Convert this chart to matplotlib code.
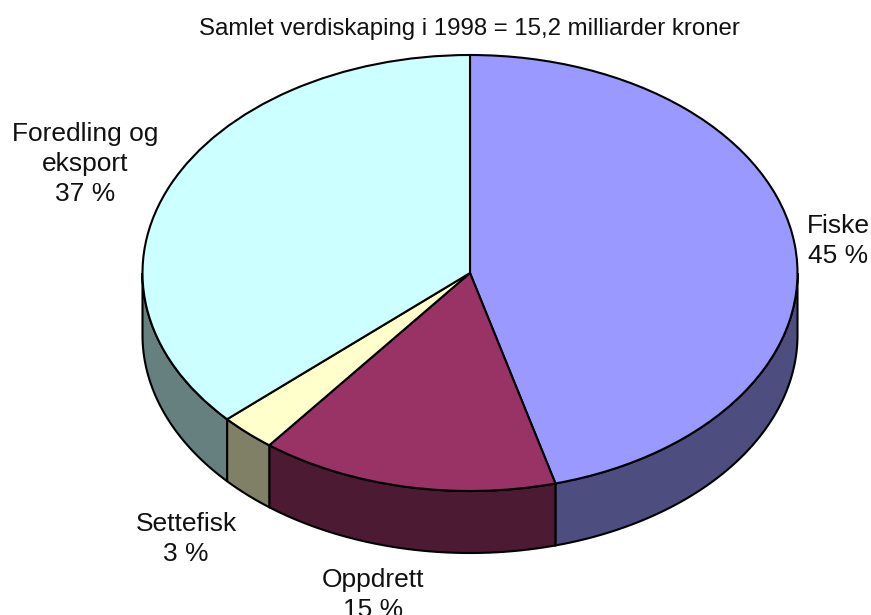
import numpy as np
import matplotlib
matplotlib.use("Agg")
import matplotlib.pyplot as plt

plt.rcParams['font.family'] = ['Liberation Sans', 'DejaVu Sans']

title = "Samlet verdiskaping i 1998 = 15,2 milliarder kroner"
categories = ["Fiske", "Oppdrett", "Settefisk", "Foredling og\neksport"]
shown_pct = ["45 %", "15 %", "3 %", "37 %"]
values = [45.8, 14.7, 2.8, 36.7]
top_colors = ["#9999ff", "#993366", "#ffffcc", "#ccffff"]
side_colors = ["#4d4d80", "#4d1a33", "#808066", "#668080"]

W, H = 871, 615
cx, cy, rx, ry, depth_px = 470, 273, 327.5, 218, 62
depth = depth_px / ry
LW = 1.5

fig = plt.figure(figsize=(W / 100, H / 100), dpi=100)
ax = fig.add_axes([0, 0, 1, 1])

# side walls, computed from the same values as the pie
angles = 90 - 360 * np.concatenate([[0], np.cumsum(values)]) / np.sum(values)
for a0, a1, col in zip(angles[:-1], angles[1:], side_colors):
    # keep only the front (lower) part of the slice's rim
    lo = a1 % 360
    hi = lo + (a0 - a1)
    s = max(lo, 180)
    e = min(hi, 360)
    if e <= s:
        continue
    t = np.radians(np.linspace(s, e, 200))
    x = np.concatenate([np.cos(t), np.cos(t[::-1])])
    y = np.concatenate([np.sin(t), np.sin(t[::-1]) - depth])
    ax.fill(x, y, facecolor=col, edgecolor="black", linewidth=LW, zorder=1)

wedges, _ = ax.pie(values, colors=top_colors, startangle=90, counterclock=False,
                   radius=1, wedgeprops=dict(edgecolor="black", linewidth=LW, zorder=2))
ax.set_aspect("auto")
ax.set_xlim(-cx / rx, (W - cx) / rx)
ax.set_ylim(-(H - cy) / ry, cy / ry)
ax.axis("off")


def px(x, y):
    return (x - cx) / rx, (cy - y) / ry


fs = 19
ax.text(*px(469, 29), title, ha="center", va="center", fontsize=17.3, color="#111111")
label_pos = [(838, 241), (373, 595), (186, 539), (85.5, 164)]
for cat, pct, (lx, ly) in zip(categories, shown_pct, label_pos):
    ax.text(*px(lx, ly), f"{cat}\n{pct}", ha="center", va="center",
            fontsize=fs, color="#111111", linespacing=1.33, zorder=3, clip_on=False)

fig.savefig("out.png", dpi=100, facecolor="white")
